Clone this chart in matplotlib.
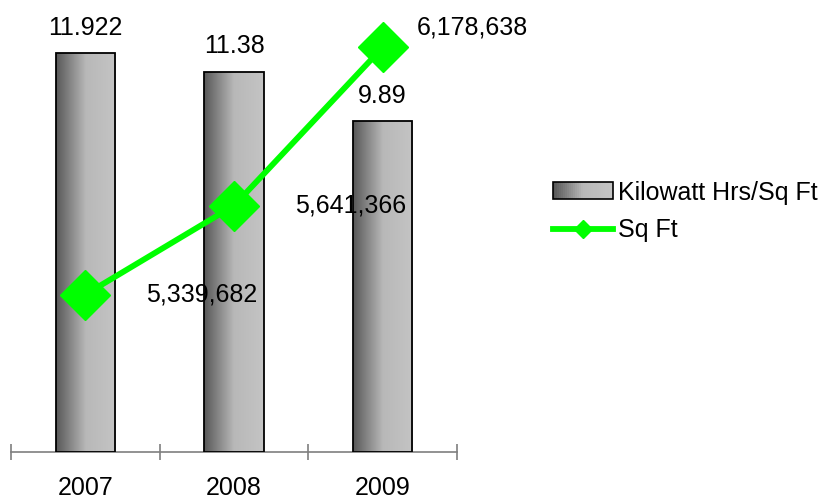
import numpy as np
import matplotlib.pyplot as plt
from matplotlib.colors import LinearSegmentedColormap
from matplotlib.patches import Rectangle
from matplotlib.lines import Line2D
from matplotlib.legend_handler import HandlerBase

plt.rcParams["font.family"] = ["Liberation Sans", "DejaVu Sans"]

years = ["2007", "2008", "2009"]
kwh_per_sqft = [11.922, 11.38, 9.89]
sq_ft = [5339682, 5641366, 6178638]
kwh_labels = ["11.922", "11.38", "9.89"]
sqft_labels = ["5,339,682", "5,641,366", "6,178,638"]

bar_cmap = LinearSegmentedColormap.from_list(
    "bar_grad", [(0.0, "#585858"), (0.5, "#b8b8b8"), (1.0, "#c4c4c4")])


class GradientBoxHandler(HandlerBase):
    """Legend key drawn as a small gradient box with black outline."""

    def create_artists(self, legend, orig_handle, xdescent, ydescent,
                       width, height, fontsize, trans):
        artists = []
        n = 30
        for i in range(n):
            artists.append(Rectangle(
                (-xdescent + width * i / n, -ydescent), width / n + 0.3, height,
                facecolor=bar_cmap(i / (n - 1)), edgecolor="none",
                transform=trans))
        artists.append(Rectangle((-xdescent, -ydescent), width, height,
                                 facecolor="none", edgecolor="black",
                                 linewidth=1.2, transform=trans))
        return artists


fig = plt.figure(figsize=(8.32, 5.01), dpi=100)
ax = fig.add_axes([11 / 832, 1 - 452 / 501, 446 / 832, 452 / 501])

x = np.arange(len(years))
bar_w = 0.40
bars = ax.bar(x, kwh_per_sqft, width=bar_w, facecolor="none",
              edgecolor="black", linewidth=1.3, zorder=3)
grad = np.linspace(0, 1, 256).reshape(1, -1)
for b in bars:
    im = ax.imshow(grad, cmap=bar_cmap, aspect="auto", zorder=2,
                   extent=[b.get_x(), b.get_x() + b.get_width(), 0, b.get_height()])
    im.set_clip_path(b)

for xi, v, lab in zip(x, kwh_per_sqft, kwh_labels):
    ax.annotate(lab, (xi, v), xytext=(0, 13.5), textcoords="offset points",
                ha="center", va="baseline", fontsize=18, zorder=5)

ax.set_xlim(-0.5, 2.5)
ax.set_ylim(0, 13.52)
ax.set_xticks(x)
ax.set_xticklabels(years, fontsize=18)
ax.set_xticks([-0.5, 0.5, 1.5, 2.5], minor=True)
ax.tick_params(axis="x", which="major", length=0, pad=17.5)
ax.tick_params(axis="x", which="minor", direction="inout", length=12,
               width=1.2, color="#7f7f7f")
ax.set_yticks([])
for s in ["top", "right", "left"]:
    ax.spines[s].set_visible(False)
ax.spines["bottom"].set_color("#7f7f7f")
ax.spines["bottom"].set_linewidth(1.2)
ax.patch.set_visible(False)

ax2 = ax.twinx()
ax2.plot(x, sq_ft, color="#00ff00", linewidth=4.2, marker="D",
         markersize=25, zorder=4)
ax2.set_ylim(4805000, 6339500)
ax2.set_yticks([])
for s in ax2.spines.values():
    s.set_visible(False)

for i, (xi, v, lab) in enumerate(zip(x, sq_ft, sqft_labels)):
    off = (24.5, 14) if i == len(x) - 1 else (44, 0)
    ax2.annotate(lab, (xi, v), xytext=off, textcoords="offset points",
                 ha="left", va="center", fontsize=18, zorder=6)

handles = [Rectangle((0, 0), 1, 1),
           Line2D([], [], color="#00ff00", linewidth=4.2, marker="D",
                  markersize=9)]
fig.legend(handles, ["Kilowatt Hrs/Sq Ft", "Sq Ft"],
           handler_map={Rectangle: GradientBoxHandler()},
           loc="center left", bbox_to_anchor=(553 / 832, 1 - 211.5 / 501),
           frameon=False, fontsize=18, handlelength=2.4, handleheight=0.65,
           handletextpad=0.2, labelspacing=0.55, borderpad=0, borderaxespad=0)

fig.savefig("out.png", dpi=100)
